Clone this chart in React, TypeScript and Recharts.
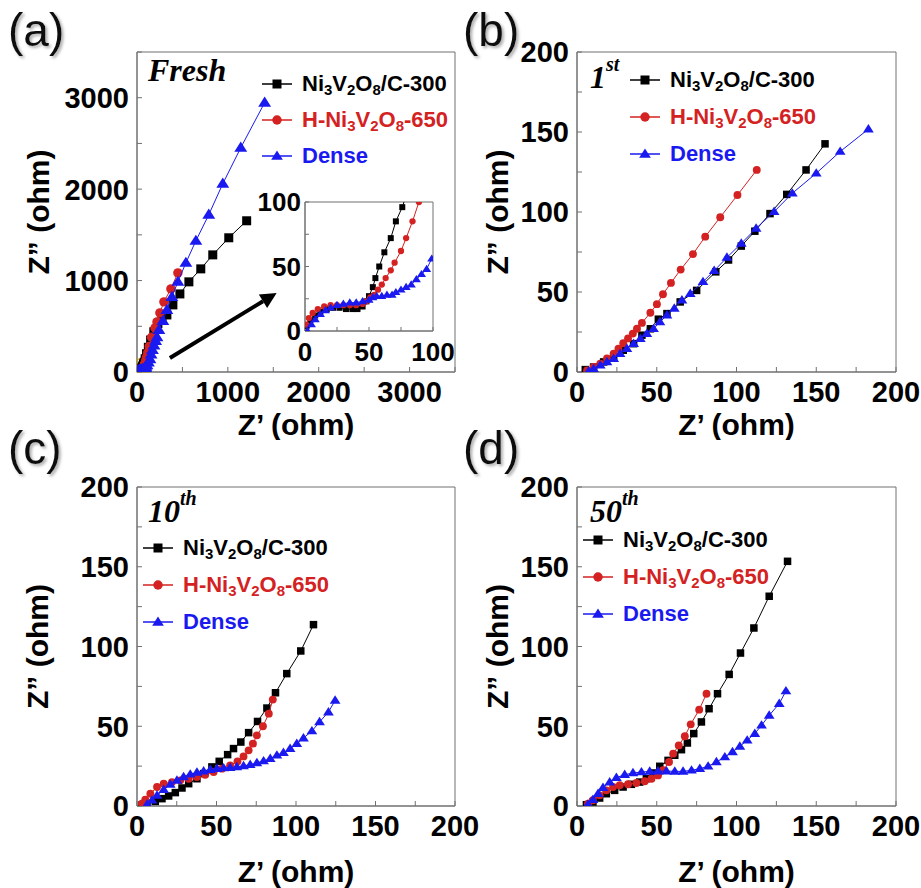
import React from 'react';
import { ScatterChart, Scatter, XAxis, YAxis, ReferenceArea, ReferenceLine, Legend } from 'recharts';

type Pt = [number, number];

// (a) fresh cells, Z' vs Z'' in ohm (the inset re-uses these, zoomed to 0-100)
const freshC300: Pt[] = [
  [1, 4], [4, 8], [8, 12], [12, 15], [17, 17], [22, 18], [27, 18], [32, 17], [37, 17], [41, 17],
  [45, 19], [48, 23], [50, 27], [53, 34], [55, 41], [58, 50], [62, 61], [67, 72], [71, 85], [76, 96],
  [80, 108], [90, 145], [105, 200], [125, 270], [150, 350], [185, 440], [230, 530], [275, 580],
  [329, 624], [395, 734], [472, 854], [571, 986], [702, 1128], [834, 1281], [1010, 1468], [1207, 1654],
];
const freshH650: Pt[] = [
  [1, 5], [3, 10], [6, 14], [10, 17], [15, 19], [20, 20], [25, 20], [30, 20], [35, 20], [40, 20],
  [45, 21], [48, 23], [51, 26], [54, 28], [57, 32], [60, 36], [63, 41], [67, 47], [70, 53], [75, 62],
  [79, 72], [84, 85], [89, 100], [96, 125], [105, 160], [118, 210], [135, 280], [160, 380], [198, 482],
  [220, 548], [252, 646], [296, 767], [373, 909], [450, 1084],
];
const freshDense: Pt[] = [
  [2, 0], [5, 5], [8, 9], [12, 13], [16, 16], [20, 18], [25, 20], [30, 21], [35, 22], [40, 22],
  [45, 23], [50, 24], [53, 26], [56, 27], [60, 27], [64, 28], [68, 28], [71, 30], [75, 32], [79, 34],
  [83, 36], [87, 40], [91, 44], [95, 48], [99, 56], [110, 75], [125, 105], [143, 140], [155, 190],
  [170, 240], [187, 290], [205, 340], [220, 380], [241, 460], [285, 559], [329, 679], [384, 821],
  [450, 986], [538, 1194], [648, 1435], [790, 1720], [944, 2059], [1142, 2453], [1405, 2946],
];

// (b) 1st cycle
const firstC300: Pt[] = [
  [5.2, 1.5], [10.4, 3.1], [16.7, 6.3], [23, 9.4], [29, 13.6], [35.5, 17.7], [40.7, 23], [46, 27],
  [51, 33], [56.4, 36.5], [64.7, 43.8], [75, 51], [87, 62.6], [95, 70], [103, 78.7], [111.5, 88],
  [121, 99], [131.5, 111], [143.6, 126.3], [155.5, 142.6],
];
const firstH650: Pt[] = [
  [6.3, 1], [10.4, 3.1], [14.6, 5.2], [18.8, 8.4], [23, 11.5], [26, 14.6], [29, 18], [32, 21], [35, 24],
  [37.6, 27], [40.7, 30.7], [46, 37], [50.1, 42.4], [53.9, 48.6], [58.9, 55.7], [65, 64], [72.7, 73.7],
  [80.4, 84.6], [89.8, 96.7], [100.6, 110.6], [112.7, 126.3],
];
const firstDense: Pt[] = [
  [7.3, 0.6], [10.4, 2], [14.6, 4.2], [18.8, 6.3], [23, 8.4], [27, 11.5], [31.3, 14.6], [35.5, 17.7],
  [39.7, 20.9], [43.8, 24], [48, 27], [52, 31.3], [56.4, 35.5], [61, 39.7], [65.8, 44.9], [71, 49],
  [79, 56.4], [86, 63.3], [94, 71.6], [103, 80.4], [112.3, 89.8], [123.6, 100.2], [135, 111.7],
  [150, 124.2], [165, 137.8], [182.7, 151.8],
];

// (c) 10th cycle
const tenthC300: Pt[] = [
  [3.1, 0.6], [6.3, 1.5], [11.5, 2.9], [15.7, 4.6], [19.9, 6.3], [24.1, 8.4], [28.3, 11.3], [32.5, 14],
  [37.7, 17.1], [41.9, 20.3], [47.1, 24.5], [51.7, 28], [57, 32.2], [60.7, 36], [65.3, 40.1], [70.2, 46],
  [75.8, 53], [81.7, 61.4], [87.1, 71], [94.2, 83], [103, 97.2], [111, 113.7],
];
const tenthH650: Pt[] = [
  [3.1, 1.5], [5.2, 4], [8.4, 7.7], [12.6, 11.9], [16.8, 14], [22, 15], [27.2, 16.1], [32.5, 17.1],
  [37.7, 18.2], [42.9, 19.6], [48.2, 21.3], [53.4, 23.4], [58.6, 25.5], [63.2, 28], [67, 31.1],
  [70.2, 34.9], [72.9, 39.1], [75.4, 44.3], [79.2, 50], [82.9, 57.9], [85.4, 66.7],
];
const tenthDense: Pt[] = [
  [6.3, 1], [9.4, 3.6], [12.6, 6.7], [16.8, 10.2], [20.9, 13.6], [25.1, 16.1], [29.3, 18.2], [33.5, 19.9],
  [37.7, 21.1], [41.9, 21.9], [46.1, 22.8], [50.3, 23.4], [54.5, 23.8], [58.6, 24], [62.8, 24.5],
  [67, 25.1], [71.2, 25.9], [75.4, 27], [79.6, 28.2], [83.8, 29.7], [88, 31.8], [92.1, 33.4],
  [96.3, 35.9], [100.5, 39.1], [104.7, 42.6], [110, 47], [114.8, 52.7], [120.4, 58.9], [124.6, 66.2],
];

// (d) 50th cycle
const fiftiethC300: Pt[] = [
  [5.9, 0.8], [10, 2.5], [14.2, 5], [18.4, 7.7], [23.6, 9.8], [28.9, 11.9], [34.1, 13.6], [39.3, 15],
  [43.5, 17.1], [47.7, 20.7], [51.9, 24.9], [57.1, 28.6], [61.3, 31.8], [65.5, 35.3], [69.2, 39.5],
  [73.2, 45.4], [78, 52.7], [82.8, 61], [88.1, 70.4], [95.4, 82.5], [102.5, 95.9], [110.9, 111.6],
  [120.5, 131.5], [132, 153.4],
];
const fiftiethH650: Pt[] = [
  [6.9, 1.5], [10, 3.6], [14.2, 6.7], [18.4, 9.8], [22.6, 11.9], [26.8, 13], [32, 13.6], [37.2, 14.4],
  [42.5, 15.5], [46.7, 17.1], [50.8, 19.2], [54, 22.4], [57.7, 27.6], [60.3, 32.8], [63.8, 38],
  [67.6, 43.7], [71.3, 51.2], [76.6, 60.4], [81.2, 70.4],
];
const fiftiethDense: Pt[] = [
  [6.9, 1], [10, 4], [13.2, 7.7], [16.3, 11.5], [20.5, 15], [24.7, 17.8], [29.9, 19.6], [35.1, 20.7],
  [40.4, 21.3], [45.6, 21.7], [50.8, 21.9], [56.1, 21.9], [61.3, 21.7], [66.5, 21.7], [71.8, 22.4],
  [77, 23.4], [82.2, 24.9], [87.4, 27.6], [92.7, 30.7], [97.5, 33.9], [102.1, 37.4], [106.7, 41.2],
  [111.5, 45.4], [115.7, 50.6], [120.5, 56.8], [126.8, 64.2], [131, 72.1],
];

const SERIES = [
  { key: 'c300', color: '#000000', shape: 'square', label: [['Ni', 0], ['3', 1], ['V', 0], ['2', 1], ['O', 0], ['8', 1], ['/C-300', 0]] },
  { key: 'h650', color: '#d42222', shape: 'circle', label: [['H-Ni', 0], ['3', 1], ['V', 0], ['2', 1], ['O', 0], ['8', 1], ['-650', 0]] },
  { key: 'dense', color: '#1a1af0', shape: 'triangle', label: [['Dense', 0]] },
];

const SANS = '"Liberation Sans", Arial, sans-serif';
const SERIF = '"Liberation Serif", "Times New Roman", serif';
const AXIS = '#707070';

const toObjs = (pts: Pt[]) => pts.map(([x, y]) => ({ x, y }));

const Marker = ({ cx, cy, shape, color, size }: any) => {
  if (cx == null || cy == null) return null;
  const h = size / 2;
  if (shape === 'square') return <rect x={cx - h} y={cy - h} width={size} height={size} fill={color} />;
  if (shape === 'circle') return <circle cx={cx} cy={cy} r={h * 1.05} fill={color} />;
  const t = size * 0.62;
  return (
    <polygon
      points={`${cx},${cy - t} ${cx - t * 1.05},${cy + t * 0.65} ${cx + t * 1.05},${cy + t * 0.65}`}
      fill={color}
    />
  );
};

const SeriesName = ({ parts }: { parts: any[] }) => (
  <>
    {parts.map(([t, sub], i) =>
      sub ? (
        <span key={i} style={{ fontSize: '0.68em', position: 'relative', top: '0.3em' }}>{t}</span>
      ) : (
        <span key={i}>{t}</span>
      )
    )}
  </>
);

const renderLegend = (rowH: number) => () => (
  <div style={{ fontFamily: SANS, fontWeight: 700, fontSize: 22 }}>
    {SERIES.map((s) => (
      <div key={s.key} style={{ display: 'flex', alignItems: 'center', height: rowH, color: s.color, whiteSpace: 'nowrap' }}>
        <svg width={30} height={16} style={{ marginRight: 10 }}>
          <line x1={0} y1={8} x2={30} y2={8} stroke={s.color} strokeWidth={1.5} />
          <Marker cx={15} cy={8} shape={s.shape} color={s.color} size={9} />
        </svg>
        <span><SeriesName parts={s.label} /></span>
      </div>
    ))}
  </div>
);

// big bold tick numbers; minor ticks get no text
const makeTick = (every: number, side: 'x' | 'y', size = 29) => (props: any) => {
  const v = props.payload?.value;
  if (v == null || v % every !== 0) return <g />;
  return (
    <text
      x={props.x}
      y={props.y}
      dy={side === 'x' ? '0.72em' : '0.36em'}
      textAnchor={side === 'x' ? 'middle' : 'end'}
      fontFamily={SANS}
      fontWeight={700}
      fontSize={size}
      fill="#000"
    >
      {v}
    </text>
  );
};

const ArrowShape = (props: any) => {
  const { x1, y1, x2, y2 } = props;
  if ([x1, y1, x2, y2].some((v) => v == null)) return null;
  const a = Math.atan2(y2 - y1, x2 - x1);
  const len = 16;
  const w = 8;
  const bx = x2 - len * Math.cos(a);
  const by = y2 - len * Math.sin(a);
  const px = -Math.sin(a) * w;
  const py = Math.cos(a) * w;
  return (
    <g>
      <line x1={x1} y1={y1} x2={bx} y2={by} stroke="#000" strokeWidth={4} />
      <polygon points={`${x2},${y2} ${bx + px},${by + py} ${bx - px},${by - py}`} fill="#000" />
    </g>
  );
};

const range = (max: number, step: number) => Array.from({ length: max / step + 1 }, (_, i) => i * step);

const PANELS = [
  {
    id: 'a', left: 0, top: 0, width: 480, height: 440, margin: { top: 52, right: 25, bottom: 28, left: 77 },
    max: 3500, step: 500, every: 1000, markerSize: 9, series: [freshC300, freshH650, freshDense],
    legend: { left: 262, top: 66, row: 36 }, yTitleX: 38, xTitleY: 424,
    letter: { x: 8, y: 46 }, title: { x: 148, y: 81, main: 'Fresh', sup: '' },
  },
  {
    id: 'b', left: 440, top: 0, width: 481, height: 440, margin: { top: 52, right: 25, bottom: 28, left: 77 },
    max: 200, step: 25, every: 50, markerSize: 7.5, series: [firstC300, firstH650, firstDense],
    legend: { left: 190, top: 61, row: 37 }, yTitleX: 57, xTitleY: 424,
    letter: { x: 463, y: 46 }, title: { x: 590, y: 88, main: '1', sup: 'st' },
  },
  {
    id: 'c', left: 0, top: 440, width: 480, height: 448, margin: { top: 47, right: 25, bottom: 42, left: 77 },
    max: 200, step: 25, every: 50, markerSize: 7.5, series: [tenthC300, tenthH650, tenthDense],
    legend: { left: 143, top: 89, row: 37 }, yTitleX: 37, xTitleY: 431,
    letter: { x: 8, y: 464 }, title: { x: 148, y: 522, main: '10', sup: 'th' },
  },
  {
    id: 'd', left: 440, top: 440, width: 481, height: 448, margin: { top: 47, right: 25, bottom: 42, left: 77 },
    max: 200, step: 25, every: 50, markerSize: 7.5, series: [fiftiethC300, fiftiethH650, fiftiethDense],
    legend: { left: 143, top: 81, row: 37 }, yTitleX: 57, xTitleY: 431,
    letter: { x: 463, y: 464 }, title: { x: 590, y: 522, main: '50', sup: 'th' },
  },
];

const Panel = ({ p }: { p: (typeof PANELS)[number] }) => {
  const ticks = range(p.max, p.step);
  return (
    <div style={{ position: 'absolute', left: p.left, top: p.top }}>
      <ScatterChart width={p.width} height={p.height} margin={p.margin}>
        <XAxis
          type="number" dataKey="x" domain={[0, p.max]} ticks={ticks} interval={0}
          height={40} tickSize={-5} tickMargin={14} stroke={AXIS} tick={makeTick(p.every, 'x')} allowDataOverflow
          label={{
            content: ({ viewBox }: any) => (
              <text x={viewBox.x + viewBox.width / 2} y={p.xTitleY} textAnchor="middle" dominantBaseline="central"
                fontFamily={SANS} fontWeight={700} fontSize={30} fill="#000">Z’ (ohm)</text>
            ),
          }}
        />
        <YAxis
          type="number" dataKey="y" domain={[0, p.max]} ticks={ticks} interval={0}
          width={60} tickSize={-5} tickMargin={13} stroke={AXIS} tick={makeTick(p.every, 'y')} allowDataOverflow
          label={{
            content: ({ viewBox }: any) => {
              const cy = viewBox.y + viewBox.height / 2;
              return (
                <text x={p.yTitleX} y={cy} textAnchor="middle" dominantBaseline="central" transform={`rotate(-90 ${p.yTitleX} ${cy})`}
                  fontFamily={SANS} fontWeight={700} fontSize={30} fill="#000">Z” (ohm)</text>
              );
            },
          }}
        />
        <ReferenceArea x1={0} x2={p.max} y1={0} y2={p.max} fill="none" stroke={AXIS} strokeWidth={1} ifOverflow="visible" />
        {p.id === 'a' && (
          <ReferenceArea x1={0} x2={140} y1={0} y2={140} fill="none" stroke="#e8c020" strokeWidth={1.5} />
        )}
        {SERIES.map((s, i) => (
          <Scatter
            key={s.key}
            name={s.key}
            data={toObjs(p.series[i])}
            fill={s.color}
            line={{ stroke: s.color, strokeWidth: 1 }}
            lineType="joint"
            isAnimationActive={false}
            shape={(props: any) => (
              <Marker cx={props.cx} cy={props.cy} shape={s.shape} color={s.color}
                size={s.shape === 'triangle' ? p.markerSize * 1.1 : p.markerSize} />
            )}
          />
        ))}
        {p.id === 'a' && (
          <ReferenceLine segment={[{ x: 362, y: 153 }, { x: 1537, y: 865 }]} stroke="#000" strokeWidth={4} shape={ArrowShape} ifOverflow="visible" />
        )}
        <Legend
          layout="vertical" align="center" verticalAlign="middle"
          content={renderLegend(p.legend.row)}
          wrapperStyle={{ left: p.legend.left, top: p.legend.top, width: 240 }}
        />
      </ScatterChart>
    </div>
  );
};

const Inset = () => {
  const ticks = range(100, 25);
  return (
    <div style={{ position: 'absolute', left: 240, top: 180 }}>
      <ScatterChart width={230} height={200} margin={{ top: 22, right: 37, bottom: 19, left: 15 }}>
        <XAxis type="number" dataKey="x" domain={[0, 100]} ticks={ticks} interval={0}
          height={30} tickSize={-4} tickMargin={15} stroke={AXIS} tick={makeTick(50, 'x', 26)} allowDataOverflow />
        <YAxis type="number" dataKey="y" domain={[0, 100]} ticks={ticks} interval={0}
          width={50} tickSize={-4} tickMargin={8} stroke={AXIS} tick={makeTick(50, 'y', 26)} allowDataOverflow />
        <ReferenceArea x1={0} x2={100} y1={0} y2={100} fill="none" stroke={AXIS} strokeWidth={1} ifOverflow="visible" />
        {SERIES.map((s, i) => (
          <Scatter
            key={s.key}
            data={toObjs([freshC300, freshH650, freshDense][i])}
            fill={s.color}
            line={{ stroke: s.color, strokeWidth: 1 }}
            lineType="joint"
            isAnimationActive={false}
            shape={(props: any) => <Marker cx={props.cx} cy={props.cy} shape={s.shape} color={s.color} size={s.shape === 'triangle' ? 7 : 6} />}
          />
        ))}
      </ScatterChart>
    </div>
  );
};

export default function App() {
  return (
    <div style={{ position: 'absolute', left: 0, top: 0, width: 921, height: 888, background: '#fff', overflow: 'hidden' }}>
      {PANELS.map((p) => (
        <Panel key={p.id} p={p} />
      ))}
      <Inset />
      <svg width={921} height={888} style={{ position: 'absolute', left: 0, top: 0, pointerEvents: 'none' }}>
        <defs>
          <filter id="soft" x="-20%" y="-20%" width="140%" height="140%">
            <feDropShadow dx="2" dy="2" stdDeviation="1.5" floodColor="#888" floodOpacity="0.7" />
          </filter>
        </defs>
        {PANELS.map((p) => (
          <g key={p.id}>
            <text x={p.letter.x} y={p.letter.y} fontFamily={SANS} fontSize={46} fill="#111" filter="url(#soft)">({p.id})</text>
            <text x={p.title.x} y={p.title.y} fontFamily={SERIF} fontStyle="italic" fontWeight={700} fontSize={32} fill="#000">
              {p.title.main}
              {p.title.sup && <tspan dy={-17} fontSize={20}>{p.title.sup}</tspan>}
            </text>
          </g>
        ))}
      </svg>
    </div>
  );
}
